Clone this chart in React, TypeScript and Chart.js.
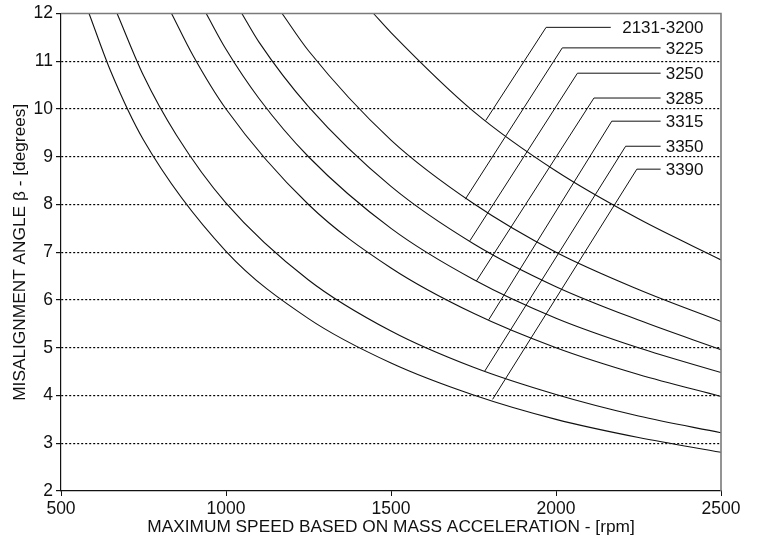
import React, { useEffect, useRef } from "react";
import { Chart, registerables } from "chart.js";

Chart.register(...registerables);

// Curve data: rpm (x) and misalignment angle in degrees (y)
const RPM_3390 = [585, 650, 750, 1000, 1250, 1500, 1750, 2000, 2250, 2500];
const DEG_3390 = [12, 10.8, 9.35, 7.02, 5.61, 4.68, 4.01, 3.5, 3.12, 2.81];

const RPM_3350 = [670, 750, 850, 1000, 1250, 1500, 1750, 2000, 2250, 2500];
const DEG_3350 = [12, 10.7, 9.45, 8.03, 6.42, 5.35, 4.59, 4.02, 3.57, 3.22];

const RPM_3315 = [835, 900, 1000, 1250, 1500, 1750, 2000, 2250, 2500];
const DEG_3315 = [12, 11.12, 10.0, 8.0, 6.67, 5.72, 5.0, 4.44, 3.98];

const RPM_3285 = [940, 1000, 1100, 1250, 1500, 1750, 2000, 2250, 2500];
const DEG_3285 = [12, 11.25, 10.22, 9.0, 7.5, 6.43, 5.62, 5.0, 4.48];

const RPM_3250 = [1048, 1100, 1250, 1500, 1750, 2000, 2250, 2500];
const DEG_3250 = [12, 11.4, 10.05, 8.38, 7.18, 6.28, 5.58, 4.96];

const RPM_3225 = [1170, 1250, 1500, 1750, 2000, 2250, 2500];
const DEG_3225 = [12, 11.22, 9.35, 8.02, 7.0, 6.22, 5.55];

const RPM_2131 = [1447, 1500, 1750, 2000, 2250, 2500];
const DEG_2131 = [12, 11.6, 9.95, 8.7, 7.7, 6.84];

// Labels and leader lines (data coordinates)
const LABELS = ["2131-3200", "3225", "3250", "3285", "3315", "3350", "3390"];
const LABEL_RIGHT_X = [2447, 2447, 2447, 2447, 2447, 2447, 2447];
const LEADER_END_X = [2166, 2317, 2317, 2317, 2317, 2317, 2317];
const LEADER_ELBOW_X = [1970, 2019, 2065, 2115, 2169, 2211, 2245];
const LEADER_ELBOW_Y = [11.71, 11.28, 10.75, 10.23, 9.745, 9.22, 8.74];
const LEADER_TIP_X = [1787, 1725, 1739, 1759, 1796, 1784, 1808];
const LEADER_TIP_Y = [9.76, 8.11, 7.24, 6.4, 5.585, 4.51, 3.92];

const CURVES_X = [RPM_2131, RPM_3225, RPM_3250, RPM_3285, RPM_3315, RPM_3350, RPM_3390];
const CURVES_Y = [DEG_2131, DEG_3225, DEG_3250, DEG_3285, DEG_3315, DEG_3350, DEG_3390];

const X_MIN = 500;
const X_MAX = 2500;
const X_STEP = 500;
const Y_MIN = 2;
const Y_MAX = 12;
const Y_STEP = 1;

const X_TITLE = "MAXIMUM SPEED BASED ON MASS ACCELERATION - [rpm]";
const Y_TITLE = "MISALIGNMENT ANGLE β - [degrees]";

const FONT = "'Liberation Sans', Arial, Helvetica, sans-serif";

export default function App() {
  const ref = useRef<HTMLCanvasElement | null>(null);

  useEffect(() => {
    document.body.style.margin = "0";
    if (!ref.current) return;

    const curveSets = CURVES_X.map((xs, i) => ({
      label: LABELS[i],
      data: xs.map((x, j) => ({ x, y: CURVES_Y[i][j] })),
      borderColor: "#111",
      borderWidth: 1.1,
      pointRadius: 0,
      fill: false,
      cubicInterpolationMode: "monotone" as const,
    }));

    const leaderSets = LABELS.map((l, i) => ({
      label: "leader " + l,
      data: [
        { x: LEADER_END_X[i], y: LEADER_ELBOW_Y[i] },
        { x: LEADER_ELBOW_X[i], y: LEADER_ELBOW_Y[i] },
        { x: LEADER_TIP_X[i], y: LEADER_TIP_Y[i] },
      ],
      borderColor: "#111",
      borderWidth: 1,
      pointRadius: 0,
      fill: false,
      tension: 0,
    }));

    const labelPlugin = {
      id: "labelsAndFrame",
      afterDatasetsDraw(chart: any) {
        const { ctx, chartArea, scales } = chart;
        ctx.save();
        // frame top & right
        ctx.strokeStyle = "#7a7a7a";
        ctx.lineWidth = 1.6;
        ctx.setLineDash([]);
        ctx.beginPath();
        ctx.moveTo(chartArea.left, chartArea.top);
        ctx.lineTo(chartArea.right, chartArea.top);
        ctx.lineTo(chartArea.right, chartArea.bottom);
        ctx.stroke();
        // labels
        ctx.fillStyle = "#111";
        ctx.font = "17px " + FONT;
        ctx.textAlign = "right";
        ctx.textBaseline = "middle";
        LABELS.forEach((t, i) => {
          const px = scales.x.getPixelForValue(LABEL_RIGHT_X[i]);
          const py = scales.y.getPixelForValue(LEADER_ELBOW_Y[i]);
          ctx.fillText(t, px, py + 1);
        });
        ctx.restore();
      },
    };

    const chart = new Chart(ref.current, {
      type: "line",
      data: { datasets: [...curveSets, ...leaderSets] as any },
      options: {
        animation: false,
        responsive: true,
        maintainAspectRatio: false,
        layout: { padding: { left: 0, top: 12, right: 36, bottom: 0 } },
        plugins: { legend: { display: false }, tooltip: { enabled: false } },
        scales: {
          x: {
            type: "linear",
            min: X_MIN,
            max: X_MAX,
            ticks: {
              stepSize: X_STEP,
              color: "#111",
              font: { family: FONT, size: 17.5 },
              padding: 3,
              maxRotation: 0,
              callback: (v: any) => String(v),
            },
            grid: {
              drawOnChartArea: false,
              drawTicks: true,
              tickLength: 5,
              tickColor: "#111",
            },
            border: { color: "#111", width: 1.2 },
            title: {
              display: true,
              text: X_TITLE,
              color: "#111",
              font: { family: FONT, size: 17.3 },
              padding: { top: 0, bottom: 2 },
            },
            afterFit(scale: any) {
              scale.height = 49;
            },
          },
          y: {
            type: "linear",
            min: Y_MIN,
            max: Y_MAX,
            ticks: {
              stepSize: Y_STEP,
              color: "#111",
              font: { family: FONT, size: 17.5 },
              padding: 3,
              callback: (v: any) => String(v),
            },
            grid: {
              color: (c: any) =>
                c.tick && (c.tick.value === Y_MIN || c.tick.value === Y_MAX) ? "rgba(0,0,0,0)" : "#000",
              lineWidth: 1.2,
              tickLength: 5,
              tickColor: "#111",
              tickBorderDash: [],
            } as any,
            border: { color: "#111", width: 1.2, dash: [2, 2] },
            title: {
              display: true,
              text: Y_TITLE,
              color: "#111",
              font: { family: FONT, size: 17.3 },
              padding: { top: 10, bottom: 0 },
            },
            afterFit(scale: any) {
              scale.width = 61;
            },
          },
        },
      },
      plugins: [labelPlugin],
    });

    return () => chart.destroy();
  }, []);

  return (
    <div style={{ position: "relative", width: 757, height: 540 }}>
      <canvas ref={ref} />
    </div>
  );
}
